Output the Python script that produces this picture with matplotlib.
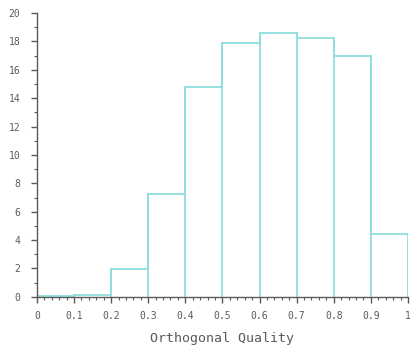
import matplotlib
matplotlib.use("Agg")
import matplotlib.pyplot as plt
import numpy as np
from matplotlib.ticker import MultipleLocator

bin_edges = [0, 0.1, 0.2, 0.3, 0.4, 0.5, 0.6, 0.7, 0.8, 0.9, 1.0]
percent = [0.05, 0.1, 1.95, 7.25, 14.8, 17.9, 18.6, 18.25, 17.0, 4.4]
xticklabels = ["0", "0.1", "0.2", "0.3", "0.4", "0.5", "0.6", "0.7", "0.8", "0.9", "1"]

plt.rcParams['font.family'] = 'DejaVu Sans Mono'
grey = "#5a5a5a"
bar_col = "#8fdede"

fig = plt.figure(figsize=(4.15, 3.53), dpi=100)
ax = fig.add_axes([0.089, 0.159, 0.894, 0.804])

ax.stairs(percent, bin_edges, color=bar_col, linewidth=1.3, baseline=0)
# inner vertical bin borders
for i in range(1, len(bin_edges) - 1):
    ax.plot([bin_edges[i]] * 2, [0, max(percent[i - 1], percent[i])], color=bar_col, lw=1.3)

ax.set_xlim(0, 1)
ax.set_ylim(0, 20)
for s in ["top", "right"]:
    ax.spines[s].set_visible(False)
for s in ["left", "bottom"]:
    ax.spines[s].set_color(grey)
    ax.spines[s].set_linewidth(1.0)

ax.set_xticks(bin_edges)
ax.set_xticklabels(xticklabels)
ax.xaxis.set_minor_locator(MultipleLocator(0.02))
ax.yaxis.set_major_locator(MultipleLocator(2))
ax.yaxis.set_minor_locator(MultipleLocator(1))
ax.tick_params(axis="both", which="major", colors=grey, labelsize=7, length=4, width=1)
ax.tick_params(axis="both", which="minor", colors=grey, length=2, width=0.8)
ax.tick_params(axis="x", pad=6)
ax.tick_params(axis="y", pad=8)

ax.set_xlabel("Orthogonal Quality", fontsize=9.5, color=grey, labelpad=8)

fig.savefig("out.png", dpi=100)
